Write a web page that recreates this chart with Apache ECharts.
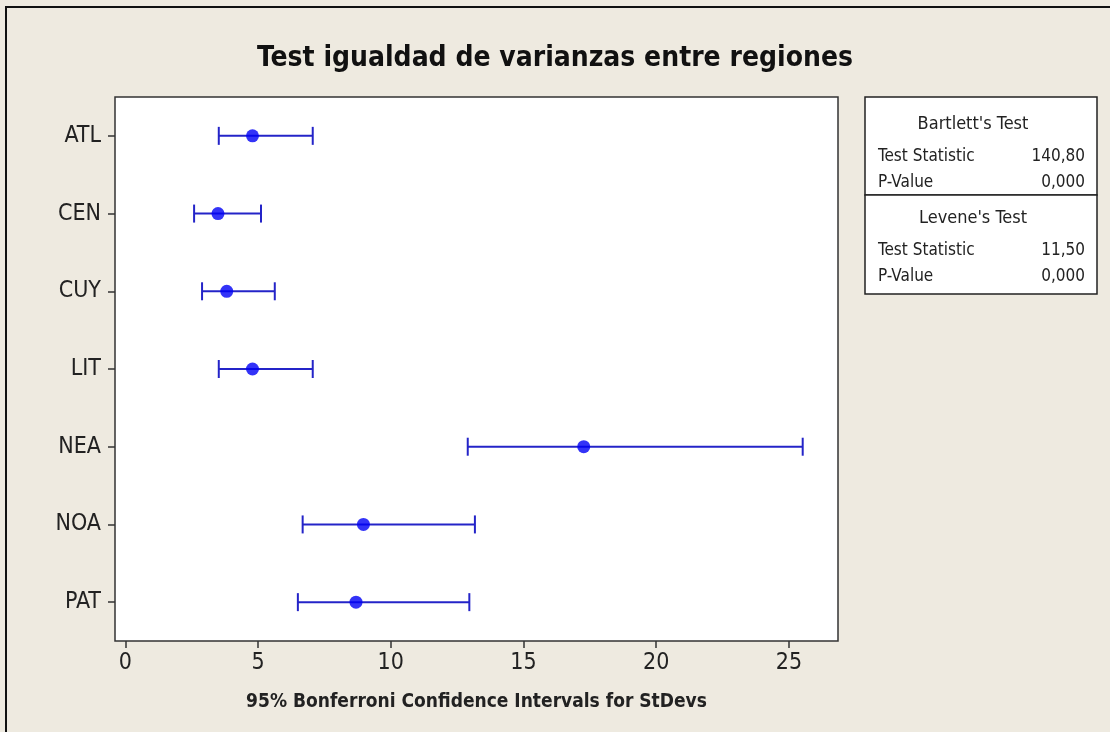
<!DOCTYPE html>
<html>
<head>
<meta charset="utf-8">
<script src="https://cdn.jsdelivr.net/npm/echarts@6/dist/echarts.min.js"></script>
<style>
html,body{margin:0;padding:0;background:#EEEAE0;}
#c{width:1110px;height:732px;}
</style>
</head>
<body>
<div id="c"></div>
<script>
var categories = ['ATL','CEN','CUY','LIT','NEA','NOA','PAT'];
var lower    = [3.52, 2.59, 2.89, 3.52, 12.90, 6.68, 6.50];
var estimate = [4.79, 3.49, 3.82, 4.79, 17.27, 8.97, 8.69];
var upper    = [7.06, 5.11, 5.63, 7.06, 25.52, 13.17, 12.96];
var xTicks   = [0, 5, 10, 15, 20, 25];
var bartlett = ['140,80', '0,000'];
var levene   = ['11,50', '0,000'];

var FONT = "'DejaVu Sans Condensed','Liberation Sans Narrow','Liberation Sans',sans-serif";
var BLUE = '#2424C8';

var chart = echarts.init(document.getElementById('c'), null, {renderer:'canvas'});

var intervalData = categories.map(function(c,i){ return [lower[i], upper[i], i]; });
var pointData = categories.map(function(c,i){ return [estimate[i], i]; });

function legendText(x, y, text, align, size){
  return {type:'text', x:x, y:y, style:{text:text, font: size+'px '+FONT, fill:'#222', align:align, verticalAlign:'middle'}};
}

var option = {
  backgroundColor:'#EEEAE0',
  animation:false,
  title:{
    text:'Test igualdad de varianzas entre regiones',
    left:'center', top:40,
    textStyle:{fontFamily:FONT, fontWeight:'bold', fontSize:28, color:'#111'}
  },
  grid:{left:115, top:97, right:272, bottom:91, show:true, backgroundColor:'#fff', borderColor:'#333', borderWidth:1.5},
  xAxis:{
    type:'value', min:-0.39, max:26.85,
    name:'95% Bonferroni Confidence Intervals for StDevs',
    nameLocation:'middle', nameGap:52,
    nameTextStyle:{fontFamily:FONT, fontWeight:'bold', fontSize:19, color:'#222'},
    axisLine:{show:false, onZero:false},
    splitLine:{show:false},
    axisTick:{show:true, customValues:xTicks, length:7, lineStyle:{color:'#333', width:1.5}},
    axisLabel:{customValues:xTicks, fontFamily:FONT, fontSize:23, color:'#222', margin:11}
  },
  yAxis:{
    type:'category', data:categories, inverse:true,
    axisLine:{show:false, onZero:false},
    axisTick:{show:true, alignWithLabel:true, length:7, lineStyle:{color:'#333', width:1.5}},
    axisLabel:{fontFamily:FONT, fontSize:23, color:'#222', margin:14},
    splitLine:{show:false}
  },
  series:[
    {
      type:'custom',
      data:intervalData,
      encode:{x:[0,1], y:2},
      renderItem:function(params, api){
        var a = api.coord([api.value(0), api.value(2)]);
        var b = api.coord([api.value(1), api.value(2)]);
        var h = 9;
        var st = {stroke:BLUE, lineWidth:2};
        return {type:'group', children:[
          {type:'line', shape:{x1:a[0],y1:a[1],x2:b[0],y2:b[1]}, style:st},
          {type:'line', shape:{x1:a[0],y1:a[1]-h,x2:a[0],y2:a[1]+h}, style:st},
          {type:'line', shape:{x1:b[0],y1:b[1]-h,x2:b[0],y2:b[1]+h}, style:st}
        ]};
      },
      z:2
    },
    {
      type:'scatter',
      data:pointData,
      symbol:'circle', symbolSize:13,
      itemStyle:{color:'#0000F5'},
      z:3
    }
  ],
  graphic:[
    {type:'rect', shape:{x:6,y:7,width:1110,height:740}, style:{fill:'none', stroke:'#111', lineWidth:2}, z:-1},
    {type:'rect', shape:{x:865,y:97,width:232,height:98}, style:{fill:'#fff', stroke:'#222', lineWidth:1.5}},
    {type:'rect', shape:{x:865,y:195,width:232,height:99}, style:{fill:'#fff', stroke:'#222', lineWidth:1.5}},
    legendText(973,124,"Bartlett's Test",'center',18),
    legendText(878,157,'Test Statistic','left',17),
    legendText(1085,157,bartlett[0],'right',17),
    legendText(878,183,'P-Value','left',17),
    legendText(1085,183,bartlett[1],'right',17),
    legendText(973,218,"Levene's Test",'center',18),
    legendText(878,251,'Test Statistic','left',17),
    legendText(1085,251,levene[0],'right',17),
    legendText(878,277,'P-Value','left',17),
    legendText(1085,277,levene[1],'right',17)
  ]
};
chart.setOption(option);
</script>
</body>
</html>
